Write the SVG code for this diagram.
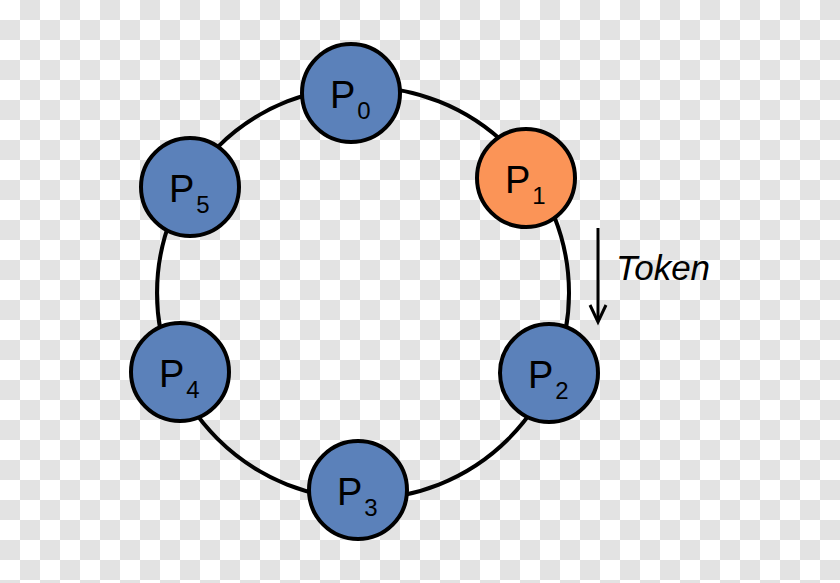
<svg xmlns="http://www.w3.org/2000/svg" width="840" height="583" viewBox="0 0 840 583">
<defs>
<pattern id="chk" x="0" y="0" width="40" height="40" patternUnits="userSpaceOnUse">
<rect x="0" y="0" width="40" height="40" fill="#ffffff"/>
<rect x="20" y="0" width="20" height="20" fill="#e3e3e3"/>
<rect x="0" y="20" width="20" height="20" fill="#e3e3e3"/>
</pattern>
</defs>
<style>
.node{stroke:#000;stroke-width:4}
.blue{fill:#5b81ba}
.orange{fill:#fb9457}
.lbl{font-family:"Liberation Sans",Arial,sans-serif;font-size:38px;fill:#000}
.sub{font-size:24px}
.ring{fill:none;stroke:#000;stroke-width:4}
</style>
<rect id="background" x="0" y="0" width="840" height="583" fill="url(#chk)"/>
<g id="connectors">
<circle class="ring" cx="363" cy="293" r="206"/>
<g id="token-arrow">
<line x1="598" y1="228" x2="598" y2="320" stroke="#000" stroke-width="3"/>
<polyline points="590,305 598,322 606,305" fill="none" stroke="#000" stroke-width="3"/>
</g>
</g>
<g id="P0"><circle class="node blue" cx="351" cy="93" r="49"/><text class="lbl" x="330" y="108">P<tspan class="sub" dx="2" dy="11">0</tspan></text></g>
<g id="P1"><circle class="node orange" cx="526" cy="178" r="49"/><text class="lbl" x="505" y="193">P<tspan class="sub" dx="2" dy="11">1</tspan></text></g>
<g id="P2"><circle class="node blue" cx="549" cy="373" r="49"/><text class="lbl" x="528" y="388">P<tspan class="sub" dx="2" dy="11">2</tspan></text></g>
<g id="P3"><circle class="node blue" cx="358" cy="490" r="49"/><text class="lbl" x="337" y="505">P<tspan class="sub" dx="2" dy="11">3</tspan></text></g>
<g id="P4"><circle class="node blue" cx="180" cy="372" r="49"/><text class="lbl" x="159" y="387">P<tspan class="sub" dx="2" dy="11">4</tspan></text></g>
<g id="P5"><circle class="node blue" cx="190" cy="187" r="49"/><text class="lbl" x="169" y="202">P<tspan class="sub" dx="2" dy="11">5</tspan></text></g>
<text x="616" y="280" font-family="Liberation Sans,Arial,sans-serif" font-size="35" font-style="italic" fill="#000">Token</text>
</svg>
